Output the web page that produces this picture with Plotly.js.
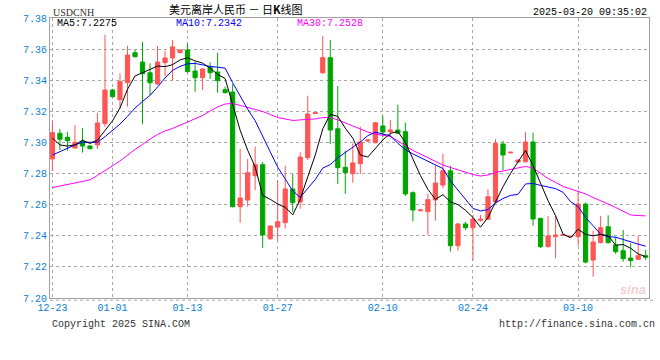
<!DOCTYPE html>
<html>
<head>
<meta charset="utf-8">
<script src="https://cdn.plot.ly/plotly-3.0.1.min.js"></script>
<style>html,body{margin:0;padding:0;background:#fff}#chart{width:660px;height:360px}</style>
</head>
<body>
<div id="chart"></div>
<script>
const dates = ['12-23','12-24','12-25','12-26','12-27','12-28','12-30','12-31',
'01-01','01-02','01-03','01-04','01-06','01-07','01-08','01-09','01-10','01-11',
'01-13','01-14','01-15','01-16','01-17','01-18','01-20','01-21','01-22','01-23','01-24','01-25',
'01-27','01-28','01-29','01-30','01-31','02-01','02-02','02-03','02-04','02-05','02-06','02-07','02-08','02-09',
'02-10','02-11','02-12','02-13','02-14','02-15','02-17','02-18','02-19','02-20','02-21','02-22',
'02-24','02-25','02-26','02-27','02-28','03-01','03-02','03-03','03-04','03-05','03-06','03-07','03-08','03-09',
'03-10','03-11','03-12','03-13','03-14','03-15','03-17','03-18','03-19','03-20'];

const open = [7.2894,7.3059,7.3033,7.2964,7.3006,7.2977,7.2984,7.3121,7.3337,7.3275,
7.3384,7.3577,7.3517,7.3448,7.3376,7.3513,7.3543,7.3577,7.3594,7.3459,
7.3416,7.3483,7.3453,7.3339,7.3324,7.2587,7.2630,7.2786,7.2857,7.2381,
7.2456,7.2484,7.2701,7.2617,7.2902,7.3185,7.3448,7.3545,7.3088,7.2840,
7.2799,7.2863,7.3009,7.2998,7.3106,7.3069,7.3080,7.3069,7.2677,7.2561,
7.2555,7.2630,7.2726,7.2818,7.2336,7.2476,7.2452,7.2500,7.2506,7.2619,
7.2990,7.2933,7.2874,7.2876,7.3003,7.2512,7.2330,7.2394,7.2405,7.2394,
7.2394,7.2604,7.2244,7.2356,7.2458,7.2341,7.2304,7.2257,7.2249,7.2272];
const high = [7.3133,7.3086,7.3067,7.3112,7.3093,7.2984,7.3189,7.3693,7.3344,7.3444,
7.3622,7.3594,7.3646,7.3509,7.3620,7.3590,7.3659,7.3597,7.3636,7.3520,
7.3478,7.3515,7.3577,7.3359,7.3374,7.2958,7.2894,7.2973,7.2874,7.2466,
7.2759,7.2849,7.2797,7.2937,7.3300,7.3195,7.3684,7.3659,7.3363,7.2947,
7.2994,7.3101,7.3020,7.3130,7.3170,7.3144,7.3243,7.3127,7.2686,7.2566,
7.2669,7.2849,7.2926,7.2849,7.2482,7.2490,7.2534,7.2534,7.2699,7.3020,
7.3011,7.2940,7.2890,7.3067,7.3063,7.2515,7.2527,7.2527,7.2410,7.2400,
7.2690,7.2613,7.2431,7.2527,7.2532,7.2394,7.2437,7.2352,7.2400,7.2309];
const low = [7.2816,7.2951,7.2947,7.2964,7.2935,7.2955,7.2958,7.3101,7.3292,7.3220,
7.3230,7.3546,7.3117,7.3303,7.3369,7.3423,7.3397,7.3575,7.3450,7.3326,
7.3337,7.3408,7.3320,7.3315,7.2583,7.2484,7.2587,7.2694,7.2323,7.2373,
7.2368,7.2445,7.2553,7.2574,7.2887,7.3182,7.3440,7.2990,7.2733,7.2670,
7.2741,7.2797,7.3005,7.2995,7.3033,7.3043,7.3054,7.2656,7.2493,7.2558,
7.2407,7.2497,7.2705,7.2298,7.2304,7.2437,7.2240,7.2490,7.2501,7.2612,
7.2823,7.2930,7.2870,7.2870,7.2465,7.2320,7.2325,7.2255,7.2400,7.2390,
7.2336,7.2223,7.2137,7.2350,7.2350,7.2283,7.2233,7.2197,7.2245,7.2244];
const close = [7.3063,7.3020,7.3011,7.3001,7.2977,7.2960,7.3125,7.3337,7.3294,7.3391,
7.3562,7.3551,7.3442,7.3384,7.3517,7.3543,7.3614,7.3594,7.3455,7.3416,
7.3472,7.3448,7.3397,7.3320,7.2587,7.2643,7.2805,7.2857,7.2405,7.2463,
7.2490,7.2701,7.2613,7.2906,7.3183,7.3191,7.3545,7.3080,7.2838,7.2806,
7.2868,7.3003,7.3016,7.3127,7.3067,7.3080,7.3059,7.2669,7.2566,7.2566,
7.2632,7.2739,7.2818,7.2336,7.2476,7.2452,7.2506,7.2506,7.2651,7.2994,
7.2919,7.2937,7.2887,7.3003,7.2508,7.2330,7.2399,7.2405,7.2407,7.2397,
7.2604,7.2231,7.2360,7.2452,7.2356,7.2298,7.2253,7.2240,7.2272,7.2262];

// moving-average values read from the chart where earlier history is not shown
const ma5Head = [7.3027,7.2984,7.2977,7.2984];
const ma10Head = [7.2919,7.2941,7.2962,7.2984,7.3001,7.3001,7.3001,7.3037,7.3080];
const ma30 = [7.2710,7.2720,7.2730,7.2739,7.2749,7.2759,7.2788,7.2816,7.2849,7.2881,
7.2919,7.2955,7.2987,7.3022,7.3051,7.3074,7.3090,7.3112,7.3132,7.3154,
7.3173,7.3202,7.3228,7.3247,7.3251,7.3238,7.3225,7.3209,7.3199,7.3180,
7.3160,7.3151,7.3141,7.3145,7.3148,7.3151,7.3160,7.3160,7.3145,7.3125,
7.3106,7.3087,7.3067,7.3054,7.3048,7.3038,7.3010,7.2977,7.2948,7.2926,
7.2903,7.2878,7.2855,7.2839,7.2823,7.2807,7.2794,7.2784,7.2791,7.2807,
7.2816,7.2826,7.2833,7.2846,7.2836,7.2801,7.2768,7.2743,7.2717,7.2701,
7.2685,7.2669,7.2646,7.2627,7.2604,7.2582,7.2559,7.2534,7.2530,7.2528];

const tickDates = ['12-23','01-01','01-13','01-27','02-10','02-24','03-10'];
const yTicks = [7.20,7.22,7.24,7.26,7.28,7.30,7.32,7.34,7.36,7.38];
const symbol = 'USDCNH';
const chartTitle = '美元离岸人民币 － 日<b>K</b>线图';
const stamp = '2025-03-20 09:35:02';
const maLabels = ['MA5:7.2275','MA10:7.2342','MA30:7.2528'];

function movingAvg(n, head) {
  return close.map((_, i) => {
    if (i < n - 1) return head[i];
    let s = 0;
    for (let k = i - n + 1; k <= i; k++) s += close[k];
    return s / n;
  });
}
const ma5 = movingAvg(5, ma5Head);
const ma10 = movingAvg(10, ma10Head);

const RED = '#ff5555', GREEN = '#00a600';
const mono = 'Liberation Mono, DejaVu Sans Mono, monospace';
const blueTxt = '#0a80d2';

const traces = [
  {type:'candlestick', x:dates, open:open, high:high, low:low, close:close,
   increasing:{line:{color:RED,width:1}, fillcolor:RED},
   decreasing:{line:{color:GREEN,width:1}, fillcolor:GREEN},
   whiskerwidth:0, hoverinfo:'skip', showlegend:false},
  {type:'scatter', mode:'lines', x:dates, y:ma30, line:{color:'#ff00ff',width:1}, hoverinfo:'skip', showlegend:false},
  {type:'scatter', mode:'lines', x:dates, y:ma10, line:{color:'#0000ff',width:1}, hoverinfo:'skip', showlegend:false},
  {type:'scatter', mode:'lines', x:dates, y:ma5, line:{color:'#000000',width:1}, hoverinfo:'skip', showlegend:false}
];

const layout = {
  width:660, height:360,
  margin:{l:50, r:11, t:18, b:62, pad:0},
  paper_bgcolor:'#fff', plot_bgcolor:'#fff',
  boxgap:0.2,
  showlegend:false,
  xaxis:{type:'category', range:[-0.32, 79.44], rangeslider:{visible:false},
    tickvals:tickDates, ticktext:tickDates, ticks:'',
    showgrid:true, gridcolor:'#a8a8a8', griddash:'dot', gridwidth:1,
    showline:true, linecolor:'#a0a0a0', linewidth:1, mirror:true,
    tickfont:{family:mono, size:10, color:blueTxt}, zeroline:false, fixedrange:true},
  yaxis:{range:[7.20, 7.38], tickvals:yTicks, tickformat:'.2f', ticks:'',
    showgrid:true, gridcolor:'#a8a8a8', griddash:'dot', gridwidth:1,
    showline:true, linecolor:'#a0a0a0', linewidth:1, mirror:true,
    tickfont:{family:mono, size:10, color:blueTxt}, zeroline:false, fixedrange:true},
  shapes:[
    {type:'line', xref:'paper', yref:'paper', x0:0, x1:1.01, y0:-0.008, y1:-0.008,
     line:{color:'#a8a8a8', width:1, dash:'dot'}}
  ],
  annotations:[
    {text:symbol, xref:'paper', yref:'paper', x:0.0017, y:1.021, xanchor:'left', yanchor:'middle', showarrow:false,
     font:{family:'Liberation Serif, serif', size:10, color:'#333'}},
    {text:chartTitle, xref:'paper', yref:'paper', x:0.196, y:1.032, xanchor:'left', yanchor:'middle', showarrow:false,
     font:{family:'Noto Sans CJK SC, sans-serif', size:11, color:'#000'}},
    {text:stamp, xref:'paper', yref:'paper', x:1.0, y:1.021, xanchor:'right', yanchor:'middle', showarrow:false,
     font:{family:mono, size:10, color:'#000'}},
    {text:maLabels[0], xref:'paper', yref:'paper', x:0.0083, y:0.979, xanchor:'left', yanchor:'middle', showarrow:false,
     font:{family:mono, size:10, color:'#000'}},
    {text:maLabels[1], xref:'paper', yref:'paper', x:0.207, y:0.979, xanchor:'left', yanchor:'middle', showarrow:false,
     font:{family:mono, size:10, color:'#0000ff'}},
    {text:maLabels[2], xref:'paper', yref:'paper', x:0.4085, y:0.979, xanchor:'left', yanchor:'middle', showarrow:false,
     font:{family:mono, size:10, color:'#ff00ff'}},
    {text:'Copyright 2025 SINA.COM', xref:'paper', yref:'paper', x:0.0, y:-0.093, xanchor:'left', yanchor:'middle', showarrow:false,
     font:{family:mono, size:10, color:'#333'}},
    {text:'http://finance.sina.com.cn', xref:'paper', yref:'paper', x:1.0127, y:-0.093, xanchor:'right', yanchor:'middle', showarrow:false,
     font:{family:mono, size:10, color:'#333'}},
    {text:'<i><b>sina</b></i>', xref:'paper', yref:'paper', x:0.998, y:0.03, xanchor:'right', yanchor:'middle', showarrow:false,
     font:{family:'Liberation Sans, sans-serif', size:13, color:'rgba(225,110,110,0.35)'}}
  ]
};

Plotly.newPlot('chart', traces, layout, {staticPlot:true, displayModeBar:false});
</script>
</body>
</html>
